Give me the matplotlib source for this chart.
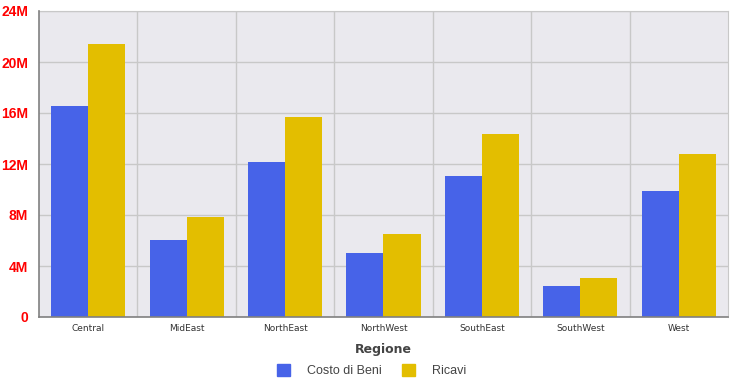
import numpy as np
import matplotlib
matplotlib.use("Agg")
import matplotlib.pyplot as plt
from matplotlib.patches import Patch

# dati
regioni = ["Central", "MidEast", "NorthEast", "NorthWest", "SouthEast", "SouthWest", "West"]
costo = [16.55, 6.04, 12.16, 5.02, 11.06, 2.43, 9.88]
ricavi = [21.41, 7.84, 15.69, 6.51, 14.35, 3.06, 12.78]
yticks = [0, 4, 8, 12, 16, 20, 24]
ylabels = ["0", "4M", "8M", "12M", "16M", "20M", "24M"]

blu = "#4763E8"
giallo = "#E3BE00"

plt.rcParams["font.family"] = ["Liberation Sans", "DejaVu Sans"]

fig = plt.figure(figsize=(7.41, 3.88), dpi=100)
ax = fig.add_axes([39 / 741, 71 / 388, 689 / 741, 306 / 388])
ax.set_facecolor("#EAE9EE")

x = np.arange(len(regioni))
w = 0.376
ax.bar(x - w / 2, costo, w, color=blu, zorder=3)
ax.bar(x + w / 2, ricavi, w, color=giallo, zorder=3)

ax.set_xlim(-0.5, len(regioni) - 0.5)
ax.set_ylim(0, 24)
ax.set_yticks(yticks)
ax.set_yticklabels(ylabels, color="#FF0000", fontweight="bold", fontsize=10)
ax.set_xticks(x)
ax.set_xticklabels(regioni, fontsize=6.5, color="#333333", family="DejaVu Sans")
ax.tick_params(length=0, pad=5)
ax.tick_params(axis="y", pad=8)

# griglia
for b in np.arange(0.5, len(regioni) - 0.5, 1):
    ax.axvline(b, color="#C8C8C8", lw=1, zorder=1)
for t in yticks:
    ax.axhline(t, color="#C8C8C8", lw=1, zorder=1)

for s in ["top", "right"]:
    ax.spines[s].set_color("#C8C8C8")
for s in ["left", "bottom"]:
    ax.spines[s].set_color("#808080")
    ax.spines[s].set_linewidth(1.2)
    ax.spines[s].set_zorder(4)

ax.set_xlabel("Regione", fontsize=9, fontweight="bold", color="#444444", labelpad=7,
              family="DejaVu Sans")

handles = [Patch(color=blu, label="Costo di Beni"), Patch(color=giallo, label="Ricavi")]
fig.legend(handles=handles, loc="center", bbox_to_anchor=(0.502, 0.044), ncol=2,
           frameon=False, fontsize=9, labelcolor="#444444",
           handlelength=1.0, handleheight=1.0, handletextpad=1.4, columnspacing=1.6)

fig.savefig("out.png", dpi=100)
